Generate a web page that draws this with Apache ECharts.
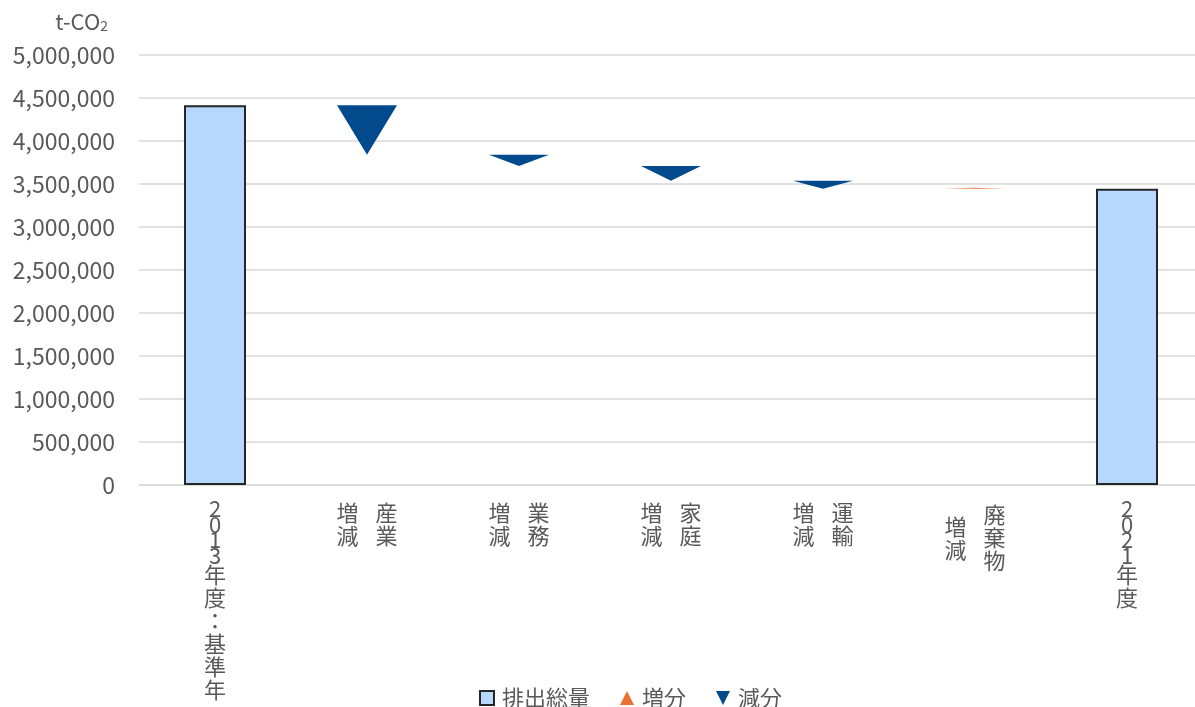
<!DOCTYPE html>
<html>
<head>
<meta charset="utf-8">
<script src="https://cdn.jsdelivr.net/npm/echarts@6/dist/echarts.min.js"></script>
<style>
html,body{margin:0;padding:0;background:#fff;overflow:hidden;width:1195px;height:707px;}
#c{width:1210px;height:707px;}
</style>
</head>
<body>
<div id="c"></div>
<script>
// ---- data ----
const categories = ['2013年度：基準年', '産業増減', '業務増減', '家庭増減', '運輸増減', '廃棄物増減', '2021年度'];
const totals = [4415000, null, null, null, null, null, 3446000];
// change per category (negative = decrease, positive = increase)
const changes = [null, -575000, -130000, -172000, -92000, 10000, null];
const yTicks = { min: 0, max: 5000000, interval: 500000 };
const unitLabel = 't-CO';
const seriesNames = ['排出総量', '増分', '減分'];

// ---- build waterfall start/end from data ----
const incData = [], decData = [];
let running = totals[0];
changes.forEach((c, i) => {
  if (c === null) return;
  const start = running, end = running + c;
  (c >= 0 ? incData : decData).push([i, start, end]);
  running = end;
});

const TXT = '#595959';
const FONT = 'Noto Sans CJK JP';
const FS = 22;

function labelFmt(name) {
  if (name.endsWith('増減')) {
    const s = name.slice(0, -2);
    if (s.length === 2) {
      return '{n|増}{g|\u3000}{n|' + s[0] + '}\n{n|減}{g|\u3000}{n|' + s[1] + '}';
    }
    // 3-char sector: left column offset by half a line
    const rows = [
      ['\u3000', s[0]],
      ['増', '\u3000'],
      ['\u3000', s[1]],
      ['減', '\u3000'],
      ['\u3000', s[2]]
    ];
    return '{sp| }\n' + rows.map(r => '{h|' + r[0] + '}{gh|\u3000}{h|' + r[1] + '}').join('\n');
  }
  // year labels: stack characters vertically
  return name.split('').map(ch => /[0-9]/.test(ch) ? '{d|' + ch + '}' : '{n|' + ch + '}').join('\n');
}

function triRender(params, api) {
  const x = api.value(0);
  const p1 = api.coord([x, api.value(1)]);
  const p2 = api.coord([x, api.value(2)]);
  const hw = 30;
  return {
    type: 'polygon',
    shape: { points: [[p1[0] - hw, p1[1]], [p1[0] + hw, p1[1]], [p2[0], p2[1]]] },
    style: { fill: api.visual('color') }
  };
}

const chart = echarts.init(document.getElementById('c'));
chart.setOption({
  animation: false,
  textStyle: { fontFamily: FONT },
  grid: { left: 139, top: 55, width: 1064, height: 430 },
  legend: {
    top: 682,
    left: 474,
    itemWidth: 14,
    itemHeight: 14,
    itemGap: 30,
    textStyle: { fontSize: FS, color: TXT, fontFamily: FONT, padding: [0, 0, 0, 3] },
    data: [
      { name: seriesNames[0], icon: 'rect' },
      { name: seriesNames[1], icon: 'triangle' },
      { name: seriesNames[2], icon: 'path://M0,0L10,0L5,10Z' }
    ]
  },
  xAxis: {
    type: 'category',
    data: categories,
    axisLine: { lineStyle: { color: '#d9d9d9', width: 1.5 } },
    axisTick: { show: false },
    axisLabel: {
      interval: 0,
      margin: 16,
      verticalAlign: 'top',
      formatter: labelFmt,
      rich: {
        n: { fontSize: FS, lineHeight: 23, color: TXT, fontFamily: FONT },
        g: { fontSize: 17, lineHeight: 23, color: TXT, fontFamily: FONT },
        d: { fontSize: FS, lineHeight: 15.5, color: TXT, fontFamily: FONT },
        h: { fontSize: FS, lineHeight: 11.5, color: TXT, fontFamily: FONT },
        gh: { fontSize: 17, lineHeight: 11.5, color: TXT, fontFamily: FONT },
        sp: { fontSize: 1, lineHeight: 8, color: TXT, fontFamily: FONT }
      }
    }
  },
  yAxis: {
    type: 'value',
    min: yTicks.min,
    max: yTicks.max,
    interval: yTicks.interval,
    name: unitLabel + '{s|2}',
    nameLocation: 'end',
    nameGap: 22,
    nameTextStyle: {
      fontSize: FS, color: TXT, fontFamily: FONT, align: 'right', padding: [0, 31, 0, 0],
      rich: { s: { fontSize: 14, color: TXT, fontFamily: FONT, padding: [8, 0, 0, 0] } }
    },
    axisLabel: {
      fontSize: 23, color: TXT, fontFamily: FONT, margin: 24,
      formatter: v => v.toLocaleString('en-US')
    },
    splitLine: { lineStyle: { color: '#d9d9d9', width: 1.5 } },
    axisLine: { show: false },
    axisTick: { show: false }
  },
  series: [
    {
      name: seriesNames[0],
      type: 'bar',
      data: totals,
      barWidth: 62,
      itemStyle: { color: '#B7D8FA', borderColor: '#262626', borderWidth: 2 }
    },
    {
      name: seriesNames[1],
      type: 'custom',
      renderItem: triRender,
      data: incData,
      encode: { x: 0, y: [1, 2] },
      itemStyle: { color: '#E97132' }
    },
    {
      name: seriesNames[2],
      type: 'custom',
      renderItem: triRender,
      data: decData,
      encode: { x: 0, y: [1, 2] },
      itemStyle: { color: '#034A8C' }
    }
  ]
});
</script>
</body>
</html>
